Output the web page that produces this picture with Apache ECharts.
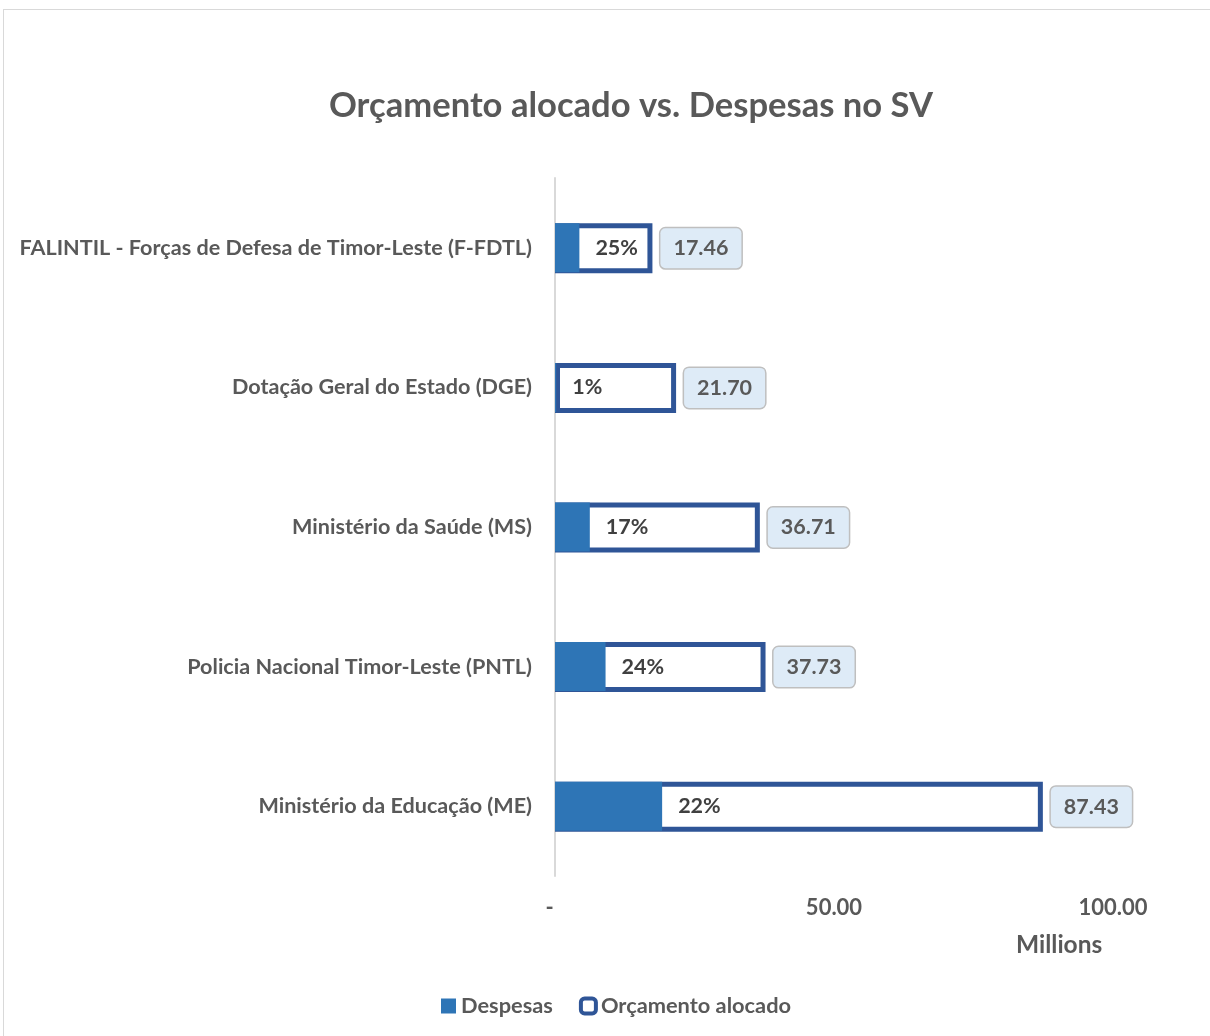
<!DOCTYPE html>
<html>
<head>
<meta charset="utf-8">
<script src="https://cdn.jsdelivr.net/npm/echarts@6/dist/echarts.min.js"></script>
<style>
  html, body { margin: 0; padding: 0; background: #fff; overflow: hidden; }
  #frame { position: absolute; left: 3px; top: 9px; width: 1300px; height: 1100px; border: 1px solid #d9d9d9; box-sizing: border-box; }
  #chart { position: absolute; left: 0; top: 0; width: 1210px; height: 1036px; }
</style>
</head>
<body>
<div id="frame"></div>
<div id="chart"></div>
<script>
// categories bottom -> top (ECharts category axis starts at the bottom)
const categories = [
  'Ministério da Educação (ME)',
  'Policia Nacional Timor-Leste (PNTL)',
  'Ministério da Saúde (MS)',
  'Dotação Geral do Estado (DGE)',
  'FALINTIL - Forças de Defesa de Timor-Leste (F-FDTL)'
]
// millions
const orcamento = [87.43, 37.73, 36.71, 21.70, 17.46]
const despesas = [19.2, 9.06, 6.24, 0.22, 4.37]
const xTicks = [0, 50, 100]

const FONT = 'Lato'
const GREY = '#595959'

const myChart = echarts.init(document.getElementById('chart'))
myChart.setOption({
  animation: false,
  textStyle: { fontFamily: FONT },
  title: {
    text: 'Orçamento alocado vs. Despesas no SV',
    left: 626,
    top: 83,
    textAlign: 'center',
    textStyle: { fontFamily: FONT, fontSize: 34.6, fontWeight: 'bold', color: GREY }
  },
  legend: {
    left: 436,
    top: 990,
    itemWidth: 15,
    itemHeight: 15,
    itemGap: 26,
    textStyle: { fontFamily: FONT, fontSize: 21.8, fontWeight: 'bold', color: GREY },
    data: [
      { name: 'Despesas', icon: 'rect', itemStyle: { color: '#2E75B6' } },
      { name: 'Orçamento alocado', icon: 'roundRect', itemStyle: { color: '#fff', borderColor: '#2F5597', borderWidth: 4 } }
    ]
  },
  grid: { left: 555, right: 97, top: 178, bottom: 160, containLabel: false },
  xAxis: {
    type: 'value',
    min: 0,
    max: 100,
    interval: 50,
    axisLine: { show: false },
    axisTick: { show: false },
    splitLine: { show: false },
    axisLabel: {
      margin: 21,
      fontFamily: FONT,
      fontSize: 22,
      fontWeight: 'bold',
      color: GREY,
      // accounting style zero: dash with trailing space
      formatter: v => (xTicks.indexOf(v) === 0 ? '-\u2002' : v.toFixed(2))
    }
  },
  yAxis: {
    type: 'category',
    data: categories,
    axisLine: { show: true, lineStyle: { color: '#d9d9d9', width: 2 } },
    axisTick: { show: false },
    axisLabel: {
      margin: 23,
      fontFamily: FONT,
      fontSize: 21.6,
      fontWeight: 'bold',
      color: GREY
    }
  },
  graphic: [{
    type: 'text',
    left: 1016,
    top: 933,
    style: { text: 'Millions', font: 'bold 24.5px Lato', fill: GREY }
  }],
  series: [
    {
      name: 'Orçamento alocado',
      type: 'bar',
      data: orcamento,
      barWidth: 50,
      barGap: '-100%',
      itemStyle: { color: '#fff', borderColor: '#2F5597', borderWidth: 5 },
      label: {
        show: true,
        position: 'right',
        distance: 8,
        formatter: p => p.value.toFixed(2),
        fontFamily: FONT,
        fontSize: 21.5,
        fontWeight: 'bold',
        color: GREY,
        backgroundColor: '#DEEBF7',
        borderColor: '#BFBFBF',
        borderWidth: 1.5,
        borderRadius: 5,
        padding: [9, 13]
      },
      z: 2
    },
    {
      name: 'Despesas',
      type: 'bar',
      data: despesas,
      barWidth: 49,
      itemStyle: { color: '#2E75B6' },
      label: {
        show: true,
        position: 'right',
        distance: 16,
        formatter: p => Math.round(p.value / orcamento[p.dataIndex] * 100) + '%',
        fontFamily: FONT,
        fontSize: 21.5,
        fontWeight: 'bold',
        color: '#404040'
      },
      z: 3
    }
  ]
})
</script>
</body>
</html>
